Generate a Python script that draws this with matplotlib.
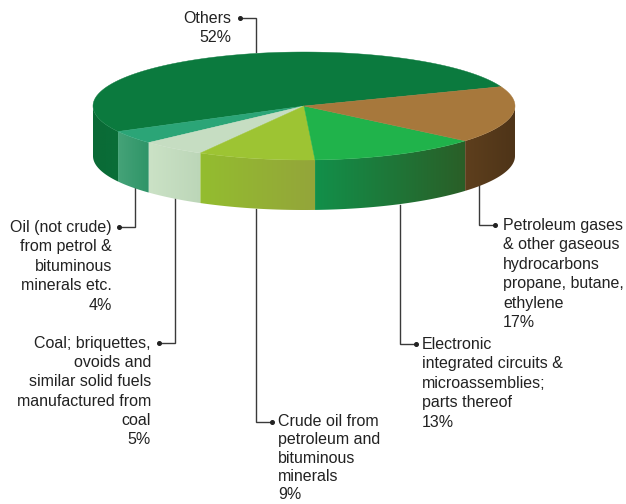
import numpy as np
import matplotlib
matplotlib.use("Agg")
import matplotlib.pyplot as plt
from matplotlib.colors import to_rgb, LinearSegmentedColormap
from matplotlib.patches import Polygon

plt.rcParams['font.family'] = ['Liberation Sans', 'DejaVu Sans']

# data, counter-clockwise from the top right edge
shares = [52, 4, 5, 9, 13, 17]
top_colors = ['#0b7a3e', '#2ba577', '#c6ddc2', '#9dc433', '#20b34b', '#a7783c']
side_left = ['#0a6a36', '#45a378', '#cbe2c6', '#94bd2f', '#12904a', '#5e3f1d']
side_right = ['#0a6e38', '#2f9468', '#bcd6b8', '#93a53a', '#2a5e27', '#4e3418']
labels = ['Others\n52%',
          'Oil (not crude)\nfrom petrol &\nbituminous\nminerals etc.\n4%',
          'Coal; briquettes,\novoids and\nsimilar solid fuels\nmanufactured from\ncoal\n5%',
          'Crude oil from\npetroleum and\nbituminous\nminerals\n9%',
          'Electronic\nintegrated circuits &\nmicroassemblies;\nparts thereof\n13%',
          'Petroleum gases\n& other gaseous\nhydrocarbons\npropane, butane,\nethylene\n17%']

# pie geometry in pixels
cx, cy, rx, ry, depth = 304, 106, 211, 54, 50
start_angle = 21

fig = plt.figure(figsize=(6.26, 5.04), dpi=100)
ax = fig.add_axes([0, 0, 1, 1])


def rim(a):
    a = np.radians(a)
    return cx + rx * np.cos(a), cy - ry * np.sin(a)


edges = start_angle + np.cumsum([0] + shares) * 3.6

# sides first, only the front half can be seen
for i in range(len(shares)):
    a0 = max(edges[i], 180)
    a1 = min(edges[i + 1], 360)
    if a1 <= a0:
        continue
    x, y = rim(np.linspace(a0, a1, 80))
    pts = list(zip(x, y)) + list(zip(x[::-1], y[::-1] + depth))
    poly = Polygon(pts, closed=True, fc='none', ec='none', transform=ax.transData)
    ax.add_patch(poly)
    cmap = LinearSegmentedColormap.from_list('side', [to_rgb(side_left[i]), to_rgb(side_right[i])])
    im = ax.imshow(np.linspace(0, 1, 256).reshape(1, -1), cmap=cmap, aspect='auto',
                   extent=(x.min(), x.max(), y.max() + depth, y.min()), zorder=2)
    im.set_clip_path(poly)

# top faces
for i in range(len(shares)):
    x, y = rim(np.linspace(edges[i], edges[i + 1], 120))
    pts = [(cx, cy)] + list(zip(x, y))
    ax.add_patch(Polygon(pts, closed=True, fc=top_colors[i], ec=top_colors[i], lw=0.3, zorder=3))

# leader lines, text anchor: (x, y, ha, line spacing)
leaders = [
    ([240, 256, 256], [18, 18, 52], (231, 11, 'right', 1.37)),
    ([119, 135, 135], [227, 227, 187], (112, 220, 'right', 1.37)),
    ([159, 175, 175], [343, 343, 198], (151, 336, 'right', 1.35)),
    ([272, 256, 256], [422, 422, 209], (278, 414, 'left', 1.28)),
    ([416, 400, 400], [344, 344, 205], (422, 337, 'left', 1.37)),
    ([495, 479, 479], [225, 225, 185], (503, 218, 'left', 1.37)),
]
for (lx, ly, (tx, ty, ha, sp)), lab in zip(leaders, labels):
    ax.plot(lx, ly, color='#3a3a3a', lw=1.0, zorder=1, solid_joinstyle='miter')
    ax.plot(lx[0], ly[0], 'o', color='#222222', ms=2.6, zorder=4)
    ax.text(tx, ty, lab, ha=ha, va='top', ma=ha, fontsize=11.5, color='#222222', linespacing=sp)

ax.set_xlim(0, 626)
ax.set_ylim(504, 0)
ax.axis('off')

fig.savefig('out.png', dpi=100)
